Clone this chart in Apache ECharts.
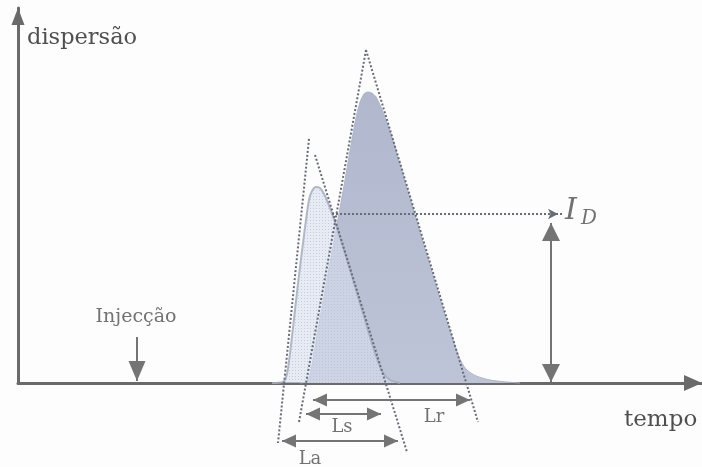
<!DOCTYPE html>
<html>
<head>
<meta charset="utf-8">
<script src="https://cdn.jsdelivr.net/npm/echarts@6/dist/echarts.min.js"></script>
<style>
  html, body { margin: 0; padding: 0; background: #fdfdfd; }
  #chart { width: 702px; height: 467px; }
</style>
</head>
<body>
<div id="chart"></div>
<script>
// Peak 1: narrow, early band (light, dotted fill)
const pico1Tempo = [25.4, 26.5, 26.9, 27.3, 27.7, 28.1, 28.5, 28.8, 29.1, 29.4, 29.8, 30.2, 30.6, 31.0, 31.5, 32.6, 33.8, 35.0, 35.8, 36.4, 37.2, 38.2];
const pico1Disp  = [0, 0.3, 2.4, 10.1, 19.5, 28.8, 37.3, 43.5, 48.8, 51.2, 52.3, 52.0, 50.4, 48.0, 44.5, 35.5, 24.8, 14.1, 7.2, 3.2, 0.8, 0];

// Peak 2: taller, later band with tail (blue-grey fill)
const pico2Tempo = [28.2, 28.8, 29.1, 29.4, 30.0, 30.9, 31.8, 32.7, 33.3, 33.8, 34.2, 34.6, 35.0, 35.4, 35.8, 36.3, 36.8, 37.3, 38.6, 40.0, 41.4, 42.8, 43.5, 44.1, 44.8, 45.8, 47.2, 48.7, 50.2];
const pico2Disp  = [0, 0.3, 1.3, 4.8, 14.1, 27.5, 40.8, 54.1, 63.5, 70.7, 74.9, 77.1, 77.6, 77.3, 76.3, 73.6, 70.1, 66.4, 54.7, 42.1, 29.6, 17.3, 11.5, 6.9, 3.7, 1.9, 0.8, 0.3, 0];

// Tangent lines drawn on the flanks of both peaks: [start, end] as [tempo, dispersão]
const tangentes = [
  [[29.1, 65.1], [26.0, -16.0]],
  [[29.7, 60.8], [38.9, -18.4]],
  [[34.8, 88.8], [28.1, -10.4]],
  [[34.8, 88.8], [46.0, -10.4]]
];

// Width arrows under the time axis (arrow tips)
const largurasNome = ['Lr', 'Ls', 'La'];
const largurasNivel = [-4.53, -8.27, -15.47];
const largurasInicio = [29.5, 28.8, 26.4];
const largurasFim = [45.2, 36.3, 38.0];
const largurasRotulo = [[41.6, -9.1], [32.4, -11.7], [29.2, -20.3]];

// Dispersion index I_D: dotted pointer level and the height arrow
const idNivel = 45.07;
const idPonteiro = [31.4, 54.5];
const idAltura = { tempo: 53.3, de: 0.27, ate: 42.67 };

// Injection marker
const injeccao = { tempo: 11.9, de: 12.27, ate: 0.53, rotulo: 17.6 };

const corTexto = '#4f4f4f';
const corSeta = '#747474';
const corEixo = '#6a6a6a';
const fonte = 'DejaVu Serif';

// Fine dot texture for the light peak
function texturaPontos() {
  const c = document.createElement('canvas');
  c.width = 3; c.height = 3;
  const g = c.getContext('2d');
  g.fillStyle = 'rgba(216,223,239,0.6)';
  g.fillRect(0, 0, 3, 3);
  g.fillStyle = 'rgba(182,190,210,0.7)';
  g.fillRect(1, 1, 1, 1);
  return c;
}

const zip = (a, b) => a.map((v, i) => [v, b[i]]);

// Arrowhead whose tip sits exactly on the given point
const ponta = (coord, w, h) => ({ coord, symbol: 'triangle', symbolSize: [w, h], symbolOffset: [0, h / 2] });

const chart = echarts.init(document.getElementById('chart'), null, { renderer: 'canvas' });

const linhasTangentes = tangentes.map(([a, b]) => [
  { coord: a, symbol: 'none' },
  { coord: b, symbol: 'none' }
]);

const setasLarguras = largurasNome.map((n, i) => [
  ponta([largurasInicio[i], largurasNivel[i]], 13, 14),
  ponta([largurasFim[i], largurasNivel[i]], 13, 14)
]);

const setaAltura = [
  ponta([idAltura.tempo, idAltura.de], 18, 18),
  ponta([idAltura.tempo, idAltura.ate], 18, 18)
];

const setaInjeccao = [
  { coord: [injeccao.tempo, injeccao.de], symbol: 'none' },
  ponta([injeccao.tempo, injeccao.ate], 17, 20)
];

const rotulos = largurasNome.map((n, i) => ({
  value: largurasRotulo[i], name: n
})).concat([
  { value: [injeccao.tempo - 0.1, injeccao.rotulo], name: 'Injecção',
    label: { fontSize: 19 } }
]);

const option = {
  backgroundColor: '#fdfdfd',
  animation: false,
  grid: [
    { left: 18, right: 0, top: 8, bottom: 0 },
    { left: 18, right: 0, top: 8, bottom: 84 }
  ],
  xAxis: [
    { gridIndex: 0, type: 'value', min: 0, max: 68.4, show: false },
    {
      gridIndex: 1, type: 'value', min: 0, max: 68.4,
      axisLine: { show: true, onZero: false, symbol: ['none', 'triangle'], symbolSize: [16, 18], symbolOffset: [0, -9],
        lineStyle: { color: corEixo, width: 3 } },
      axisTick: { show: false }, axisLabel: { show: false }, splitLine: { show: false }
    }
  ],
  yAxis: [
    { gridIndex: 0, type: 'value', min: -22.4, max: 100, show: false },
    {
      gridIndex: 1, type: 'value', min: 0, max: 100,
      axisLine: { show: true, onZero: false, symbol: ['none', 'triangle'], symbolSize: [13, 17], symbolOffset: [0, -8.5],
        lineStyle: { color: corEixo, width: 3 } },
      axisTick: { show: false }, axisLabel: { show: false }, splitLine: { show: false }
    }
  ],
  graphic: [
    { type: 'text', left: 27, top: 27, style: { text: 'dispersão', font: '22.5px "DejaVu Serif"', fill: corTexto } },
    { type: 'text', left: 624, top: 409, style: { text: 'tempo', font: '23px "DejaVu Serif"', fill: corTexto } }
  ],
  series: [
    {
      type: 'line', xAxisIndex: 0, yAxisIndex: 0, z: 1,
      data: zip(pico2Tempo, pico2Disp), smooth: 0.25, showSymbol: false, clip: false, silent: true,
      lineStyle: { color: '#adb5ca', width: 1 },
      areaStyle: {
        opacity: 1,
        color: new echarts.graphic.LinearGradient(0, 0, 0, 1, [
          { offset: 0, color: '#b1b8cd' },
          { offset: 1, color: '#bdc4d8' }
        ])
      }
    },
    {
      type: 'line', xAxisIndex: 0, yAxisIndex: 0, z: 2,
      data: zip(pico1Tempo, pico1Disp), smooth: 0.25, showSymbol: false, clip: false, silent: true,
      lineStyle: { color: 'rgba(165,173,192,0.85)', width: 2 },
      areaStyle: { opacity: 1, color: { image: texturaPontos(), repeat: 'repeat' } }
    },
    {
      type: 'line', xAxisIndex: 0, yAxisIndex: 0, z: 3, data: [], silent: true,
      markLine: {
        silent: true, animation: false,
        label: { show: false }, emphasis: { disabled: true },
        lineStyle: { color: '#666c78', width: 2, type: [2, 2] },
        data: linhasTangentes
      }
    },
    {
      type: 'line', xAxisIndex: 0, yAxisIndex: 0, z: 3, data: [], silent: true,
      markLine: {
        silent: true, animation: false,
        label: { show: false }, emphasis: { disabled: true },
        lineStyle: { color: '#666c78', width: 2, type: [2, 2] },
        data: [[
          { coord: [idPonteiro[0], idNivel], symbol: 'none' },
          { coord: [idPonteiro[1], idNivel], symbol: 'arrow', symbolSize: [8, 10], symbolOffset: [0, 5] }
        ]]
      }
    },
    {
      type: 'line', xAxisIndex: 0, yAxisIndex: 0, z: 4, data: [], silent: true,
      markLine: {
        silent: true, animation: false,
        label: { show: false }, emphasis: { disabled: true },
        lineStyle: { color: corSeta, width: 2, type: 'solid' },
        data: setasLarguras.concat([setaAltura, setaInjeccao])
      }
    },
    {
      type: 'scatter', xAxisIndex: 0, yAxisIndex: 0, z: 5, symbolSize: 0, silent: true,
      data: rotulos,
      label: {
        show: true, position: 'inside', formatter: '{b}',
        fontFamily: fonte, fontSize: 18, color: corTexto
      }
    },
    {
      type: 'scatter', xAxisIndex: 0, yAxisIndex: 0, z: 5, symbolSize: 0, silent: true,
      data: [
        { value: [idPonteiro[1] + 0.2, idNivel + 0.8], name: 'I', label: { fontSize: 30 } },
        { value: [idPonteiro[1] + 1.8, idNivel - 1.4], name: 'D', label: { fontSize: 20 } }
      ],
      label: {
        show: true, position: 'right', distance: 0, formatter: '{b}',
        fontFamily: fonte, fontStyle: 'italic', color: corTexto
      }
    }
  ]
};

chart.setOption(option);
</script>
</body>
</html>
